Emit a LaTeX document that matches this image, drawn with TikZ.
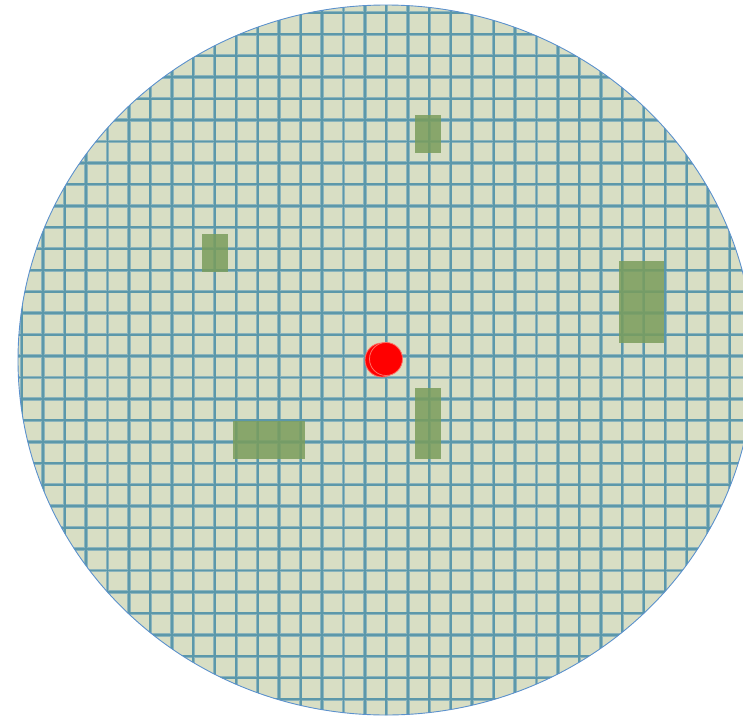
\documentclass[tikz,border=0pt]{standalone}
\definecolor{fillc}{RGB}{216,222,196}
\definecolor{gridhalo}{RGB}{140,180,188}
\definecolor{gridcore}{RGB}{92,152,170}
\definecolor{edgec}{RGB}{91,145,205}
\definecolor{blockc}{RGB}{122,157,92}
\definecolor{dotc}{RGB}{255,0,0}
\definecolor{dotedge}{RGB}{255,110,100}
\tikzset{
  halo/.style={draw=gridhalo,line width=3.4pt},
  core/.style={draw=gridcore,line width=1.9pt},
  block/.style={fill=blockc,fill opacity=0.85},
  dot/.style={fill=dotc,draw=dotedge,line width=0.8pt},
  rim/.style={draw=edgec,line width=0.9pt}
}
\begin{document}
\begin{tikzpicture}[x=1pt,y=-1pt]
\useasboundingbox (0,0) rectangle (743,717);
\fill[fillc] (386,360) ellipse [x radius=368, y radius=355];
\begin{scope}
\clip (386,360) ellipse [x radius=368, y radius=355];
\foreach \k in {-8,...,26} {\draw[halo] ({193.3+21.45*\k},-5) -- ++(0,730);}
\foreach \k in {-10,...,23} {\draw[halo] (0,{227.3+21.45*\k}) -- ++(760,0);}
\foreach \k in {-8,...,26} {\draw[core] ({193.3+21.45*\k},-5) -- ++(0,730);}
\foreach \k in {-10,...,23} {\draw[core] (0,{227.3+21.45*\k}) -- ++(760,0);}
\end{scope}
\draw[rim] (386,360) ellipse [x radius=368, y radius=355];
\fill[block] (415,115) rectangle (441,153);
\fill[block] (202,234) rectangle (228,272);
\fill[block] (233,421) rectangle (305,459);
\fill[block] (619,261) rectangle (664,343);
\fill[block] (415,388) rectangle (441,459);
\filldraw[dot] (382,360) circle [radius=17];
\filldraw[dot] (386,359) circle [radius=16.5];
\end{tikzpicture}
\end{document}
